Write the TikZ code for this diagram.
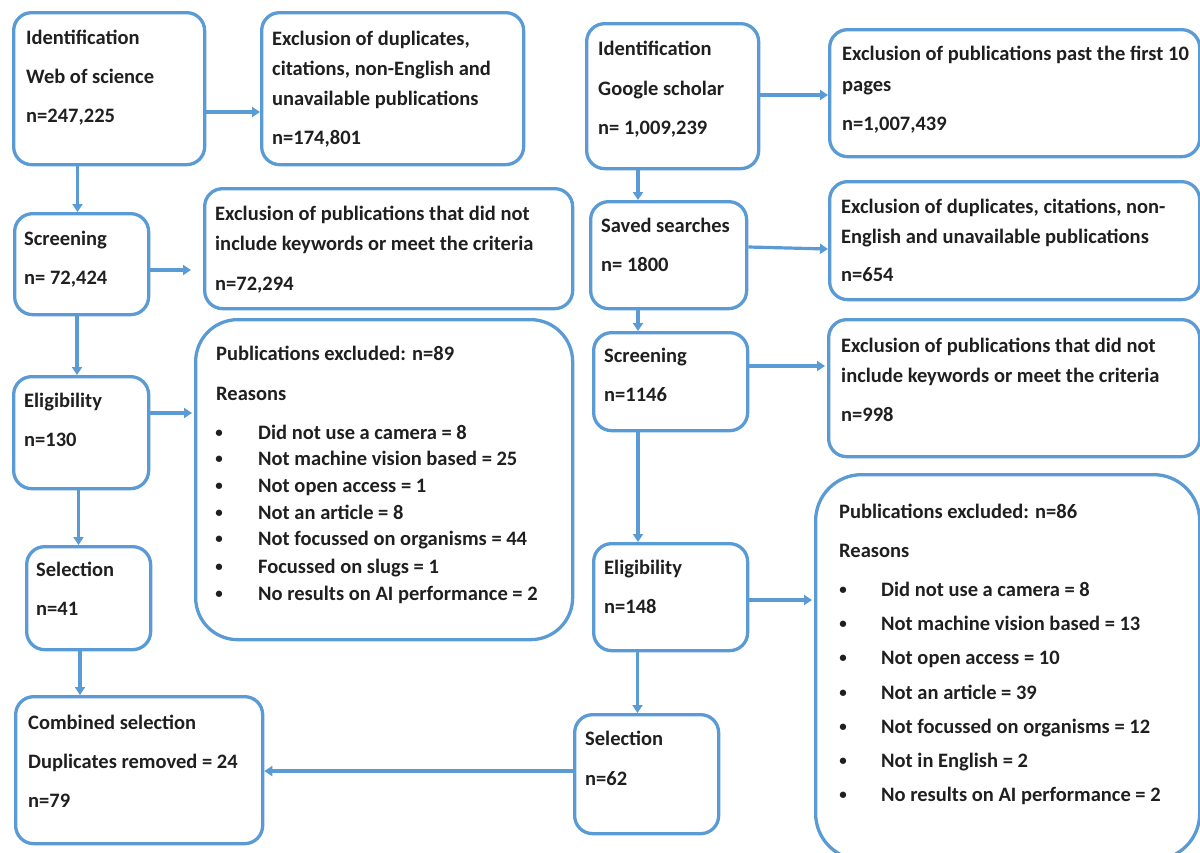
\documentclass[tikz,border=0pt]{standalone}
\usepackage{fontspec}
\setmainfont{Carlito}
\usetikzlibrary{arrows.meta}
\definecolor{bl}{HTML}{5B9BD5}
\newcommand\bx[6][]{\node[box,#1,anchor=north west,minimum width={#4-#2},minimum height={#5-#3}] (#6) at (#2,#3) {};}
\newcommand\tl[4]{\node[tx] (#1) at (#2,#3) {#4};}
\begin{document}
\begin{tikzpicture}[x=1pt,y=-1pt,
  box/.style={draw=bl, line width=3.3pt, rounded corners=18pt, inner sep=0pt},
  arr/.style={draw=bl, line width=3.2pt, -{Triangle[length=8pt,width=10pt]}},
  tx/.style={anchor=base west, inner sep=0pt, font=\bfseries\fontsize{20.5}{24}\selectfont, text=black!88},
  bul/.style={anchor=center, inner sep=0pt, font=\bfseries\fontsize{15}{16}\selectfont, text=black!88}]
\useasboundingbox (0,0) rectangle (1200,852);
% left column boxes
\bx{12}{11}{203}{163}{b1}
\bx{260}{11}{522}{163}{b2}
\bx{13}{212}{147}{313}{b3}
\bx{203}{187}{571}{307}{b4}
\bx{12}{375}{147}{487}{b5}
\bx[rounded corners=42pt]{194}{318}{571}{638}{b6}
\bx{25}{545}{149}{648}{b7}
\bx{14}{695}{261}{842}{b8}
% right column boxes
\bx{585}{22}{757}{167}{r1}
\bx{828}{28}{1198}{155}{r2}
\bx{589}{200}{745}{307}{r3}
\bx{828}{180}{1198}{298}{r4}
\bx{592}{331}{746}{429}{r5}
\bx{827}{318}{1198}{455}{r9}
\bx{592}{542}{746}{649}{r6}
\bx{573}{713}{717}{832}{r7}
\bx[rounded corners=46pt]{814}{473}{1198}{858}{r8}
% arrows
\draw[arr] (b1.east |- 0,112) -- (b2.west |- 0,112);
\draw[arr] (b1.south -| 77.5,0) -- (b3.north -| 77.5,0);
\draw[arr,shorten >=12pt] (b3.east |- 0,270) -- (b4.west |- 0,270);
\draw[arr] (b3.south -| 77,0) -- (b5.north -| 77,0);
\draw[arr,shorten >=2pt] (b5.east |- 0,413) -- (b6.west |- 0,413);
\draw[arr] (b5.south -| 78.5,0) -- (b7.north -| 78.5,0);
\draw[arr] (b7.south -| 80,0) -- (b8.north -| 80,0);
\draw[arr] (r7.west |- 0,771) -- (b8.east |- 0,771);
\draw[arr] (r1.east |- 0,95) -- (r2.west |- 0,95);
\draw[arr] (r1.south -| 638,0) -- (r3.north -| 638,0);
\draw[arr] (r3.east |- 0,247) -- (r4.west |- 0,249);
\draw[arr] (r3.south -| 638,0) -- (r5.north -| 638,0);
\draw[arr,shorten >=2pt] (r5.east |- 0,366) -- (r9.west |- 0,366);
\draw[arr] (r5.south -| 638,0) -- (r6.north -| 638,0);
\draw[arr,shorten >=2pt] (r6.east |- 0,600) -- (r8.west |- 0,600);
\draw[arr] (r6.south -| 637.5,0) -- (r7.north -| 637.5,0);
% texts left
\tl{t1a}{26}{44}{Identification}
\tl{t1b}{26}{83}{Web of science}
\tl{t1c}{26}{122}{n=247,225}
\tl{t2a}{272}{45}{Exclusion of duplicates,}
\tl{t2b}{272}{75}{citations, non-English and}
\tl{t2c}{272}{105}{unavailable publications}
\tl{t2d}{272}{144}{n=174,801}
\tl{t3a}{24}{245}{Screening}
\tl{t3b}{24}{284}{n= 72,424}
\tl{t4a}{215}{220}{Exclusion of publications that did not}
\tl{t4b}{215}{250}{include keywords or meet the criteria}
\tl{t4c}{215}{290}{n=72,294}
\tl{t5a}{24}{407}{Eligibility}
\tl{t5b}{24}{446}{n=130}
\tl{t6a}{216}{360}{Publications excluded: n=89}
\tl{t6b}{216}{400}{Reasons}
\foreach \yy/\txt [count=\i] in {439/Did not use a camera = 8, 465/Not machine vision based = 25, 492/Not open access = 1, 519/Not an article = 8, 545/Not focussed on organisms = 44, 573/Focussed on slugs = 1, 600/No results on AI performance = 2}{
  \node[bul] (lb\i) at (219,\yy-5) {•};
  \node[tx] (lt\i) at (258,\yy) {\txt};
}
\tl{t7a}{36}{576}{Selection}
\tl{t7b}{36}{615}{n=41}
\tl{t8a}{28}{729}{Combined selection}
\tl{t8b}{28}{768}{Duplicates removed = 24}
\tl{t8c}{28}{807}{n=79}
% texts right
\tl{s1a}{598}{55}{Identification}
\tl{s1b}{598}{95}{Google scholar}
\tl{s1c}{598}{134}{n= 1,009,239}
\tl{s2a}{842}{60}{Exclusion of publications past the first 10}
\tl{s2b}{842}{91}{pages}
\tl{s2c}{842}{130}{n=1,007,439}
\tl{s3a}{601}{232}{Saved searches}
\tl{s3b}{601}{271}{n= 1800}
\tl{s4a}{841}{213}{Exclusion of duplicates, citations, non-}
\tl{s4b}{841}{243}{English and unavailable publications}
\tl{s4c}{841}{281}{n=654}
\tl{s5a}{604}{362}{Screening}
\tl{s5b}{604}{401}{n=1146}
\tl{s9a}{841}{352}{Exclusion of publications that did not}
\tl{s9b}{841}{382}{include keywords or meet the criteria}
\tl{s9c}{841}{421}{n=998}
\tl{s6a}{604}{574}{Eligibility}
\tl{s6b}{604}{613}{n=148}
\tl{s7a}{585}{745}{Selection}
\tl{s7b}{585}{785}{n=62}
\tl{s8a}{839}{518}{Publications excluded: n=86}
\tl{s8b}{839}{557}{Reasons}
\foreach \yy/\txt [count=\i] in {596/Did not use a camera = 8, 630/Not machine vision based = 13, 664/Not open access = 10, 699/Not an article = 39, 733/Not focussed on organisms = 12, 767/Not in English = 2, 801/No results on AI performance = 2}{
  \node[bul] (rb\i) at (843,\yy-5) {•};
  \node[tx] (rt\i) at (881,\yy) {\txt};
}
\end{tikzpicture}
\end{document}
